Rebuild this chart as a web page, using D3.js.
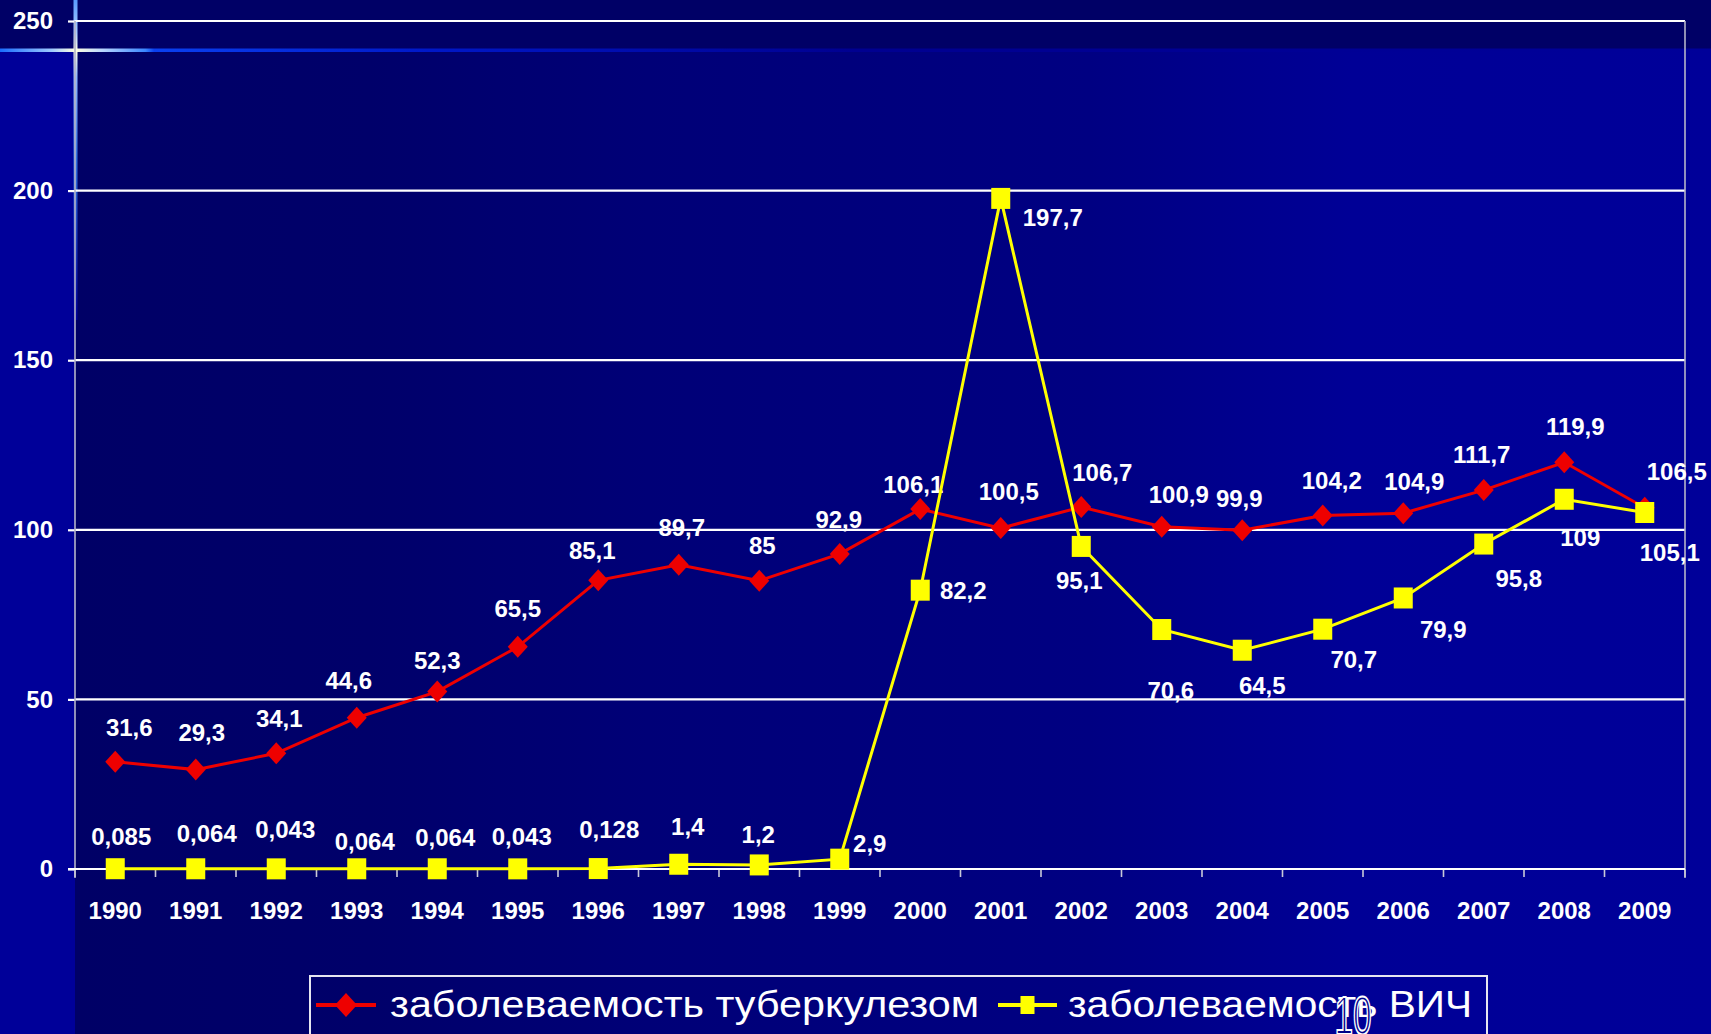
<!DOCTYPE html>
<html>
<head>
<meta charset="utf-8">
<script src="https://cdn.jsdelivr.net/npm/d3@7"></script>
<style>
html,body{margin:0;padding:0;background:#000099;overflow:hidden}
svg{display:block}
text{font-family:"Liberation Sans",Arial,sans-serif}
</style>
</head>
<body>
<svg id="chart" width="1711" height="1034"></svg>
<script>
// ---------- data ----------
const years = [1990,1991,1992,1993,1994,1995,1996,1997,1998,1999,2000,2001,2002,2003,2004,2005,2006,2007,2008,2009];
const tbValues  = [31.6,29.3,34.1,44.6,52.3,65.5,85.1,89.7,85,92.9,106.1,100.5,106.7,100.9,99.9,104.2,104.9,111.7,119.9,106.5];
const hivValues = [0.085,0.064,0.043,0.064,0.064,0.043,0.128,1.4,1.2,2.9,82.2,197.7,95.1,70.6,64.5,70.7,79.9,95.8,109,105.1];
const yTickValues = [0,50,100,150,200,250];
const seriesNames = ["заболеваемость туберкулезом","заболеваемость ВИЧ"];
const slideNumber = "10";

// ---------- layout (label offsets from marker, px) ----------
const tbLabelOffsets = [[14,-34],[6,-37],[3,-35],[-8,-37],[0,-31],[0,-38],[-6,-30],[3,-37],[3,-35],[-1,-35],
                        [-7,-25],[8,-37],[21,-35],[17,-32],[-3,-32],[9,-35],[11,-32],[-2,-36],[11,-36],[32,-36]];
const hivLabelOffsets = [[6,-32],[11,-35],[9,-39],[8,-27],[8,-31],[4,-32],[11,-39],[9,-38],[-1,-31],[30,-16],
                         [43,0],[52,19],[-2,34],[9,61],[20,35],[31,30],[40,31],[35,34],[16,38],[25,40]];

const W = 1711, H = 1034;
const plot = {left:75, right:1685, top:21, bottom:869};
const svg = d3.select("#chart");
const defs = svg.append("defs");

// ---------- background ----------
const gBg = defs.append("linearGradient").attr("id","bgGrad").attr("x1","0").attr("x2","1").attr("y1","0").attr("y2","0");
[[0,"#000066"],[0.18,"#00006a"],[0.35,"#000077"],[0.62,"#000082"],[0.78,"#000096"],[1,"#000099"]]
  .forEach(s=>gBg.append("stop").attr("offset",s[0]).attr("stop-color",s[1]));
svg.append("rect").attr("width",W).attr("height",H).attr("fill","#000099");
svg.append("rect").attr("x",75).attr("y",50).attr("width",W-75).attr("height",H-50).attr("fill","url(#bgGrad)");
svg.append("rect").attr("width",W).attr("height",50).attr("fill","#000066");

// decorative lines
const gH = defs.append("linearGradient").attr("id","hGrad").attr("gradientUnits","userSpaceOnUse")
  .attr("x1",0).attr("x2",W).attr("y1",0).attr("y2",0);
[[0,"#1a6cff"],[0.03,"#9cc8ff"],[0.044,"#ffffe0"],[0.06,"#b8d6ff"],[0.085,"#3a86ff"],[0.09,"#0a40f0"],[0.25,"#0018c8"],[0.5,"#000090"],[1,"#000099"]]
  .forEach(s=>gH.append("stop").attr("offset",s[0]).attr("stop-color",s[1]));
svg.append("rect").attr("x",0).attr("y",48.5).attr("width",W).attr("height",3.5).attr("fill","url(#hGrad)");
const gV = defs.append("linearGradient").attr("id","vGrad").attr("gradientUnits","userSpaceOnUse")
  .attr("x1",0).attr("x2",0).attr("y1",0).attr("y2",320);
[[0,"#5a9cff"],[0.1,"#a8ccff"],[0.16,"#ffffe6"],[0.24,"#90b8ff"],[0.5,"#3070e0"],[1,"#000099"]]
  .forEach(s=>gV.append("stop").attr("offset",s[0]).attr("stop-color",s[1]));
svg.append("rect").attr("x",73.5).attr("y",0).attr("width",4).attr("height",320).attr("fill","url(#vGrad)");

// ---------- scales ----------
const x = d3.scaleBand().domain(years).range([plot.left, plot.right]).padding(0);
const xc = d => x(d) + x.bandwidth()/2;
const y = d3.scaleLinear().domain([0,250]).range([plot.bottom, plot.top]);

// ---------- grid ----------
svg.append("g").selectAll("line").data(y.ticks(5).filter(v=>v>0)).join("line")
  .attr("x1",plot.left).attr("x2",plot.right)
  .attr("y1",d=>y(d)).attr("y2",d=>y(d))
  .attr("stroke","#ffffff").attr("stroke-width",2.2);

// y axis
const yAxis = svg.append("g").attr("transform",`translate(${plot.left},0)`)
  .call(d3.axisLeft(y).tickValues(yTickValues).tickSize(7).tickPadding(15).tickFormat(d3.format("d")));
yAxis.select(".domain").remove();
yAxis.selectAll(".tick line").attr("stroke","#ffffff").attr("stroke-width",2.2);
yAxis.selectAll(".tick text").attr("fill","#ffffff").attr("font-size",24).attr("font-weight","bold")
  .attr("font-family","'Liberation Sans',Arial,sans-serif");

// plot side borders
svg.append("line").attr("x1",plot.left).attr("x2",plot.left).attr("y1",plot.top).attr("y2",plot.bottom+9)
  .attr("stroke","#b4b4c8").attr("stroke-width",1.6);
svg.append("line").attr("x1",plot.right).attr("x2",plot.right).attr("y1",plot.top).attr("y2",plot.bottom+9)
  .attr("stroke","#b4b4c8").attr("stroke-width",1.6);

// x axis
const xAxis = svg.append("g").attr("transform",`translate(0,${plot.bottom})`)
  .call(d3.axisBottom(x).tickSize(0).tickPadding(33));
xAxis.select(".domain").remove();
xAxis.selectAll(".tick text").attr("fill","#ffffff").attr("font-size",24).attr("font-weight","bold")
  .attr("font-family","'Liberation Sans',Arial,sans-serif");
const boundaries = years.map(d=>x(d)).concat([x(years[years.length-1])+x.bandwidth()]);
svg.append("g").selectAll("line").data(boundaries).join("line")
  .attr("x1",d=>d).attr("x2",d=>d).attr("y1",plot.bottom).attr("y2",plot.bottom+8)
  .attr("stroke","#c8c8d8").attr("stroke-width",1.6);
svg.append("line").attr("x1",plot.left-7).attr("x2",plot.right).attr("y1",y(0)).attr("y2",y(0))
  .attr("stroke","#ffffff").attr("stroke-width",2.2);

// ---------- series ----------
const fmt = v => String(v).replace(".", ",");
const line = d3.line().x(d=>xc(d.year)).y(d=>y(d.v));
const diamond = s => `M0,${-s*1.1}L${s},0L0,${s*1.1}L${-s},0Z`;

const tbData = years.map((yr,i)=>({year:yr, v:tbValues[i], off:tbLabelOffsets[i]}));
const hivData = years.map((yr,i)=>({year:yr, v:hivValues[i], off:hivLabelOffsets[i]}));

const RED = "#ee0000", YEL = "#ffff00";

// TB
svg.append("path").datum(tbData).attr("d",line).attr("fill","none").attr("stroke",RED).attr("stroke-width",3);
svg.append("g").selectAll("path").data(tbData).join("path")
  .attr("d",diamond(10)).attr("transform",d=>`translate(${xc(d.year)},${y(d.v)})`).attr("fill",RED);
svg.append("g").selectAll("text").data(tbData).join("text")
  .attr("x",d=>xc(d.year)+d.off[0]).attr("y",d=>y(d.v)+d.off[1]).attr("dy","0.36em")
  .attr("text-anchor","middle").attr("fill","#ffffff").attr("font-size",24).attr("font-weight","bold")
  .text(d=>fmt(d.v));

// HIV
svg.append("path").datum(hivData).attr("d",line).attr("fill","none").attr("stroke",YEL).attr("stroke-width",3);
svg.append("g").selectAll("rect").data(hivData).join("rect")
  .attr("x",d=>xc(d.year)-9.5).attr("y",d=>y(d.v)-10.5).attr("width",19).attr("height",21).attr("fill",YEL);
svg.append("g").selectAll("text").data(hivData).join("text")
  .attr("x",d=>xc(d.year)+d.off[0]).attr("y",d=>y(d.v)+d.off[1]).attr("dy","0.36em")
  .attr("text-anchor","middle").attr("fill","#ffffff").attr("font-size",24).attr("font-weight","bold")
  .text(d=>fmt(d.v));

// ---------- legend ----------
const lg = svg.append("g");
lg.append("rect").attr("x",310).attr("y",976).attr("width",1177).attr("height",80)
  .attr("fill","none").attr("stroke","#e6e6f0").attr("stroke-width",2);
const legendItems = [
  {name:seriesNames[0], color:RED, kind:"diamond", lx1:316, lx2:376, tx:390, tl:589},
  {name:seriesNames[1], color:YEL, kind:"square", lx1:998, lx2:1057, tx:1068, tl:404}
];
const ly = 1005;
legendItems.forEach(it=>{
  lg.append("line").attr("x1",it.lx1).attr("x2",it.lx2).attr("y1",ly).attr("y2",ly)
    .attr("stroke",it.color).attr("stroke-width",4);
  const cx = (it.lx1+it.lx2)/2;
  if(it.kind==="diamond"){
    lg.append("path").attr("d",diamond(11)).attr("transform",`translate(${cx},${ly})`).attr("fill",it.color);
  } else {
    lg.append("rect").attr("x",cx-7).attr("y",ly-9).attr("width",14).attr("height",18).attr("fill",it.color);
  }
  lg.append("text").attr("x",it.tx).attr("y",1017).attr("fill","#ffffff").attr("font-size",37)
    .attr("textLength",it.tl).attr("lengthAdjust","spacingAndGlyphs").text(it.name);
});
// slide number overlapping the legend
svg.append("text").attr("transform","translate(1353,1034) scale(0.62,1)")
  .attr("text-anchor","middle").attr("font-size",54).attr("fill","#000088")
  .attr("stroke","#ffffff").attr("stroke-width",2).text(slideNumber);
</script>
</body>
</html>
